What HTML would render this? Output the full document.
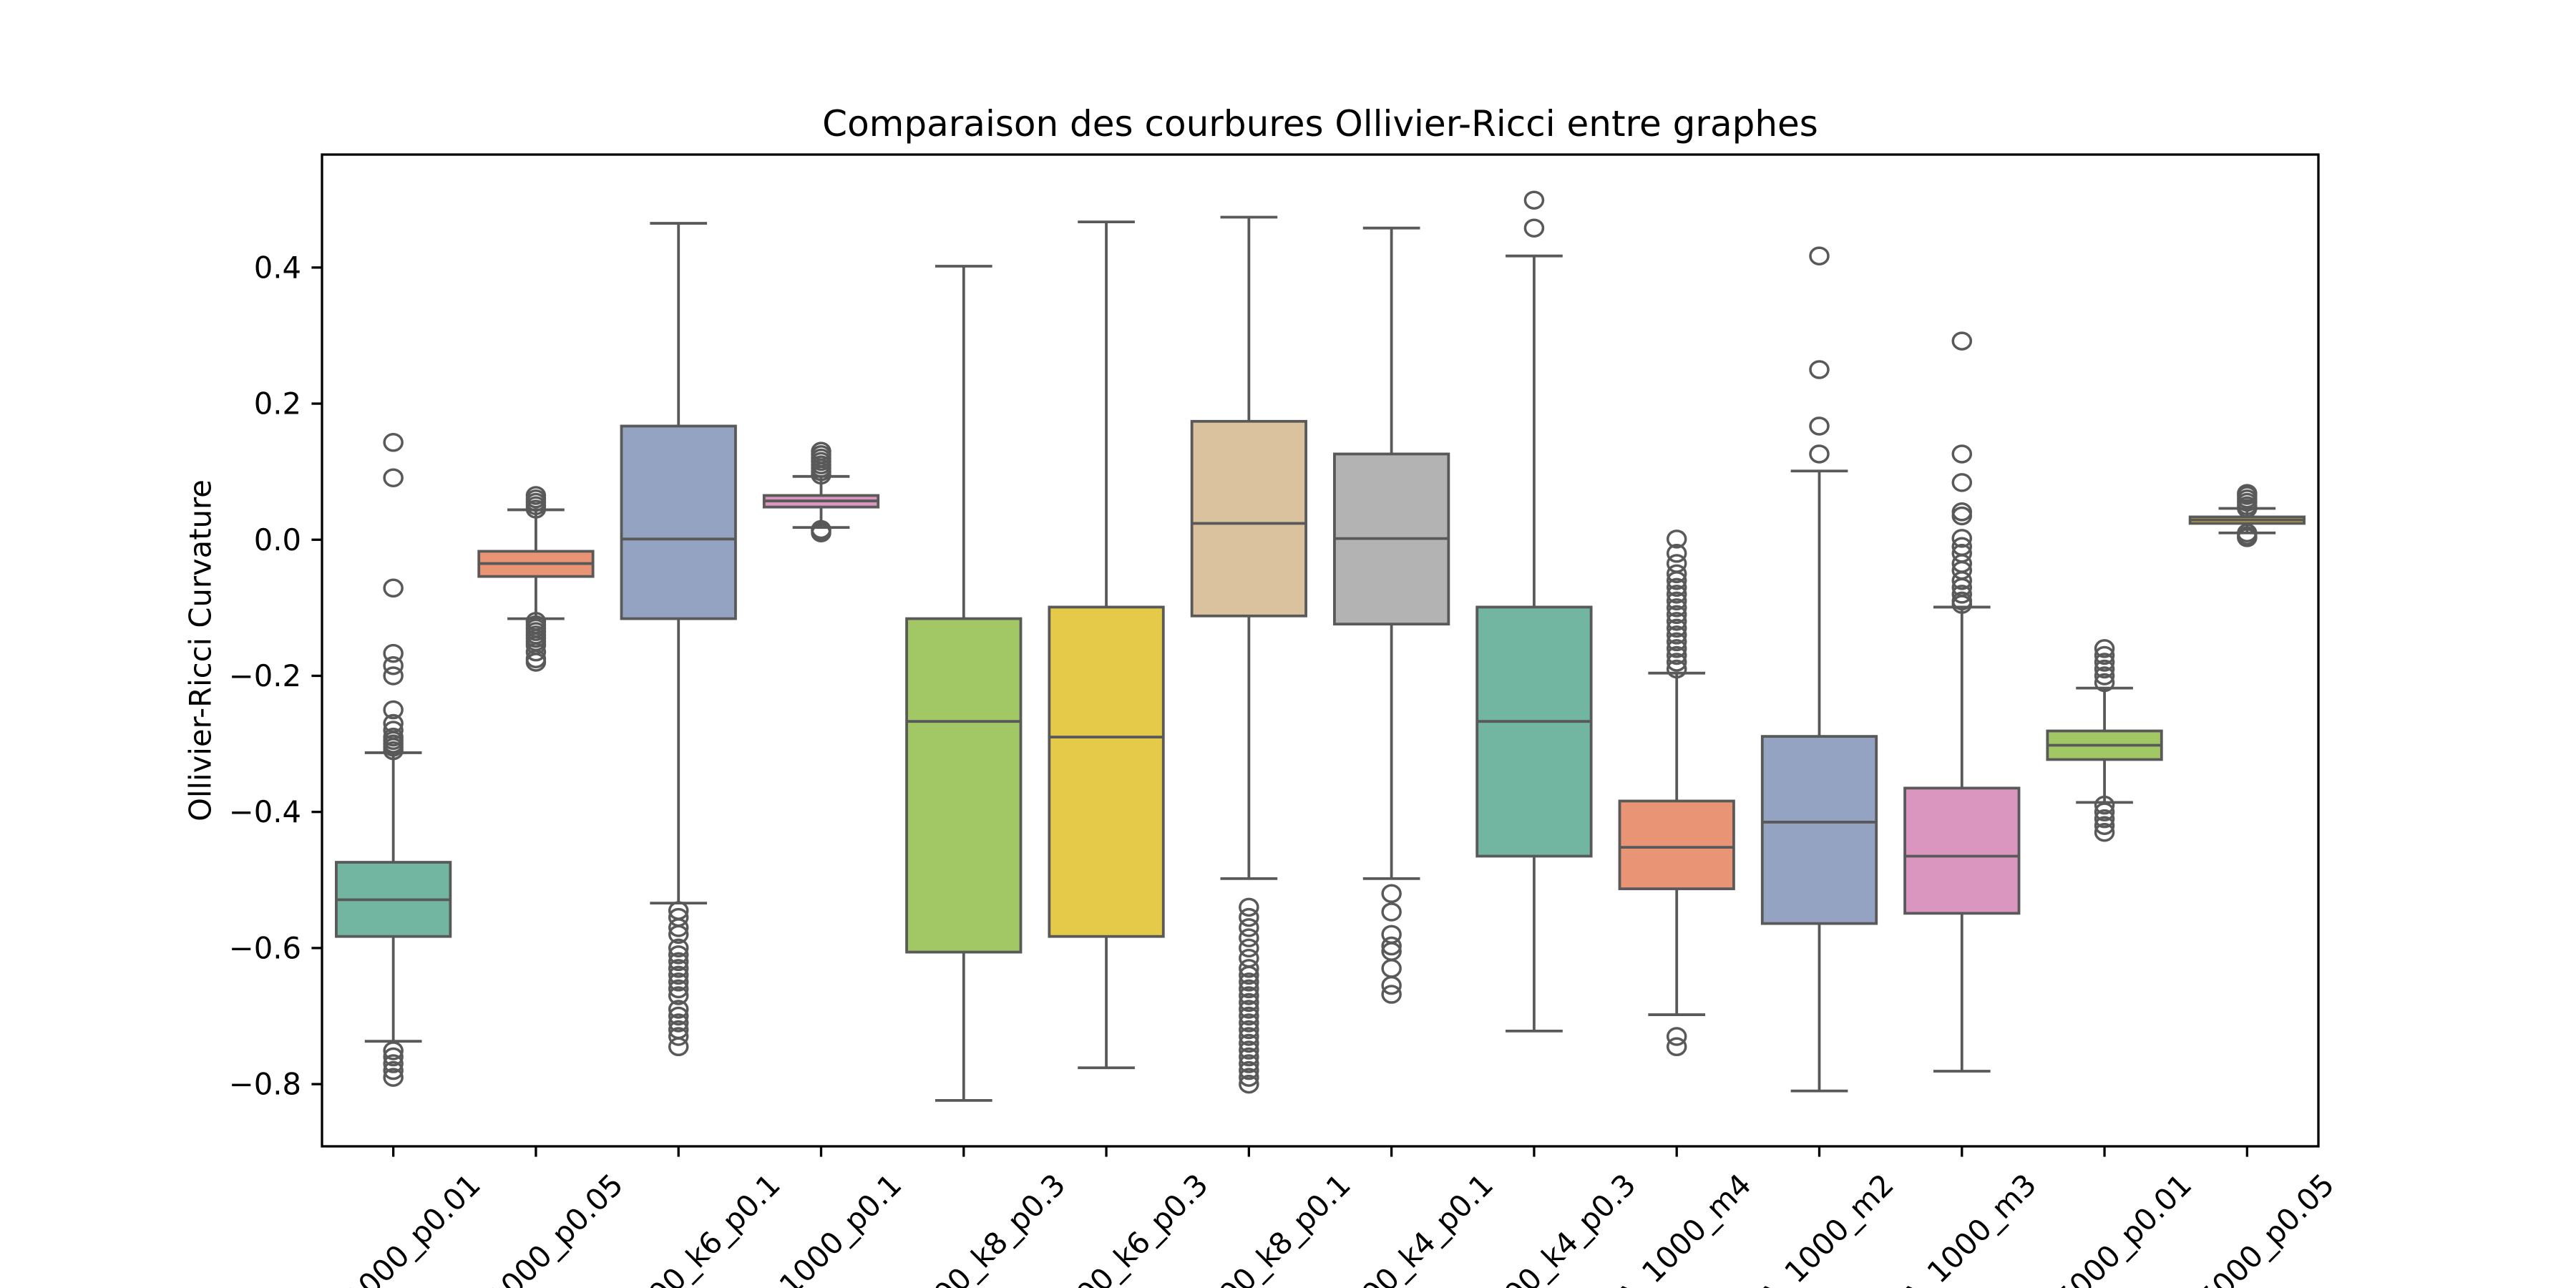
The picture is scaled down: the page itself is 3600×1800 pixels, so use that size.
<!DOCTYPE html>
<html><head><meta charset="utf-8"><style>
html,body{margin:0;padding:0;background:#fff;width:3600px;height:1800px;overflow:hidden;}
svg{display:block;font-family:"DejaVu Sans","Liberation Sans",sans-serif;}
</style></head><body>
<svg id="chart" width="3600" height="1800" viewBox="0 0 3600 1800" xmlns="http://www.w3.org/2000/svg" overflow="hidden">
<rect x="0" y="0" width="3600" height="1800" fill="#fff"/>
<text x="1845" y="190" font-size="50" text-anchor="middle" fill="#000">Comparaison des courbures Ollivier-Ricci entre graphes</text>
<text transform="translate(280,909) rotate(-90)" font-size="41.7" text-anchor="middle" dominant-baseline="central" fill="#000">Ollivier-Ricci Curvature</text>
<g id="marks"></g>
<g id="axes"></g>
</svg>
<script>
const categories=["ER_1000_p0.01","ER_1000_p0.05","WS_1000_k6_p0.1","ER_1000_p0.1","WS_1000_k8_p0.3","WS_1000_k6_p0.3","WS_1000_k8_p0.1","WS_1000_k4_p0.1","WS_1000_k4_p0.3","BA_1000_m4","BA_1000_m2","BA_1000_m3","ER_5000_p0.01","ER_5000_p0.05"];
const whiskerHigh=[-0.313,0.044,0.465,0.093,0.402,0.467,0.474,0.458,0.417,-0.196,0.101,-0.099,-0.218,0.046];
const q3=[-0.474,-0.017,0.167,0.065,-0.116,-0.099,0.174,0.126,-0.099,-0.384,-0.289,-0.365,-0.281,0.0335];
const medians=[-0.529,-0.035,0.001,0.057,-0.267,-0.29,0.024,0.0017,-0.267,-0.452,-0.415,-0.465,-0.302,0.029];
const q1=[-0.583,-0.054,-0.116,0.048,-0.606,-0.583,-0.112,-0.124,-0.465,-0.513,-0.564,-0.549,-0.323,0.024];
const whiskerLow=[-0.737,-0.116,-0.534,0.018,-0.824,-0.776,-0.498,-0.498,-0.722,-0.698,-0.81,-0.781,-0.386,0.010];
const outliers=[
 [0.143,0.091,-0.071,-0.167,-0.185,-0.2,-0.25,-0.27,-0.28,-0.29,-0.295,-0.3,-0.305,-0.31,-0.751,-0.76,-0.77,-0.78,-0.79],
 [0.045,0.05,0.055,0.06,0.065,-0.12,-0.125,-0.13,-0.135,-0.14,-0.145,-0.15,-0.155,-0.165,-0.175,-0.18],
 [-0.545,-0.555,-0.57,-0.58,-0.6,-0.61,-0.62,-0.63,-0.64,-0.65,-0.66,-0.67,-0.69,-0.7,-0.71,-0.72,-0.73,-0.745],
 [0.095,0.1,0.105,0.11,0.115,0.12,0.125,0.13,0.01,0.013,0.015],
 [],[],
 [-0.54,-0.555,-0.57,-0.585,-0.6,-0.615,-0.63,-0.64,-0.65,-0.66,-0.67,-0.68,-0.69,-0.7,-0.71,-0.72,-0.73,-0.74,-0.75,-0.76,-0.77,-0.78,-0.79,-0.8],
 [-0.52,-0.547,-0.58,-0.597,-0.605,-0.63,-0.655,-0.668],
 [0.499,0.458],
 [0.001,-0.02,-0.035,-0.05,-0.06,-0.07,-0.08,-0.09,-0.1,-0.11,-0.12,-0.13,-0.14,-0.15,-0.16,-0.17,-0.18,-0.19,-0.73,-0.745],
 [0.417,0.25,0.167,0.126],
 [0.292,0.126,0.084,0.041,0.035,0.002,-0.01,-0.02,-0.035,-0.045,-0.06,-0.07,-0.08,-0.09,-0.095],
 [-0.16,-0.17,-0.18,-0.19,-0.2,-0.21,-0.39,-0.4,-0.41,-0.42,-0.43],
 [0.046,0.05,0.055,0.06,0.065,0.068,0.003,0.006,0.01]
];
const yTicks=[0.4,0.2,0.0,-0.2,-0.4,-0.6,-0.8];
const yTickLabels=["0.4","0.2","0.0","\u22120.2","\u22120.4","\u22120.6","\u22120.8"];
const palette=["#66c2a5","#fc8d62","#8da0cb","#e78ac3","#a6d854","#ffd92f","#e5c494","#b3b3b3"];

const L=450,R=3240,T=216,B=1602,YMAX=0.566,YMIN=-0.8914;
function y(v){return T+(YMAX-v)/(YMAX-YMIN)*(B-T);}
const step=(R-L)/categories.length;
function x(i){return L+step*(i+0.5);}
const NS="http://www.w3.org/2000/svg";
function mk(tag,attrs,parent){const e=document.createElementNS(NS,tag);for(const k in attrs)e.setAttribute(k,attrs[k]);parent.appendChild(e);return e;}
function desat(hex,p){
 let r=parseInt(hex.substr(1,2),16)/255,g=parseInt(hex.substr(3,2),16)/255,b=parseInt(hex.substr(5,2),16)/255;
 const mx=Math.max(r,g,b),mn=Math.min(r,g,b),l=(mx+mn)/2;let h=0,s=0;
 if(mx!==mn){const d=mx-mn;s=l>0.5?d/(2-mx-mn):d/(mx+mn);
  if(mx===r)h=((g-b)/d+(g<b?6:0));else if(mx===g)h=(b-r)/d+2;else h=(r-g)/d+4;h/=6;}
 s*=p;
 function hue(p,q,t){if(t<0)t+=1;if(t>1)t-=1;if(t<1/6)return p+(q-p)*6*t;if(t<1/2)return q;if(t<2/3)return p+(q-p)*(2/3-t)*6;return p;}
 const q=l<0.5?l*(1+s):l+s-l*s,pp=2*l-q;
 const c=[hue(pp,q,h+1/3),hue(pp,q,h),hue(pp,q,h-1/3)].map(v=>Math.round(v*255));
 return "rgb("+c.join(",")+")";
}
const marks=document.getElementById('marks');
const LC="#595959",LW=3.8,BW=step*0.8;
categories.forEach((c,i)=>{
 const g=mk('g',{},marks);
 
 
 const cx=x(i);
 const w1=mk('line',{x1:cx,x2:cx,y1:y(q3[i]),y2:y(whiskerHigh[i]),stroke:LC,'stroke-width':LW},g);
 
 
 const w2=mk('line',{x1:cx,x2:cx,y1:y(q1[i]),y2:y(whiskerLow[i]),stroke:LC,'stroke-width':LW},g);
 
 
 [whiskerHigh[i],whiskerLow[i]].forEach(v=>{
  const cap=mk('line',{x1:cx-BW/4,x2:cx+BW/4,y1:y(v),y2:y(v),stroke:LC,'stroke-width':LW},g);
  
  
 });
 const rect=mk('rect',{x:cx-BW/2,y:y(q3[i]),width:BW,height:Math.max(0.5,y(q1[i])-y(q3[i])),fill:desat(palette[i%8],0.75),stroke:LC,'stroke-width':LW},g);
 
 
 const med=mk('line',{x1:cx-BW/2,x2:cx+BW/2,y1:y(medians[i]),y2:y(medians[i]),stroke:LC,'stroke-width':LW},g);
 
 
 outliers[i].forEach(v=>{
  const o=mk('ellipse',{cx:cx,cy:y(v),rx:12.5,ry:11.5,fill:'none',stroke:LC,'stroke-width':3.5},g);
  
  
 });
});
const axes=document.getElementById('axes');
const frame=mk('rect',{x:L,y:T,width:R-L,height:B-T,fill:'none',stroke:'#000','stroke-width':3.3},axes);


yTicks.forEach((v,k)=>{
 const t=mk('line',{x1:L-14.6,x2:L,y1:y(v),y2:y(v),stroke:'#000','stroke-width':3.3},axes);
 
 
 const tx=mk('text',{x:L-29,y:y(v),'font-size':41.7,'text-anchor':'end','dominant-baseline':'central',fill:'#000'},axes);
 tx.textContent=yTickLabels[k];
 
 
});
categories.forEach((c,i)=>{
 const cx=x(i);
 const t=mk('line',{x1:cx,x2:cx,y1:B,y2:B+14.6,stroke:'#000','stroke-width':3.3},axes);
 
 
 const tx=mk('text',{'font-size':41.7,'text-anchor':'middle','dominant-baseline':'central',fill:'#000'},axes);
 tx.textContent=c;
 
 
 const len=tx.getComputedTextLength();
 const h=(len+48)*0.7071;
 const cy=B+29+h/2;
 tx.setAttribute('x',cx);tx.setAttribute('y',cy);
 tx.setAttribute('transform','rotate(-45 '+cx+' '+cy+')');
});
</script>
</body></html>
